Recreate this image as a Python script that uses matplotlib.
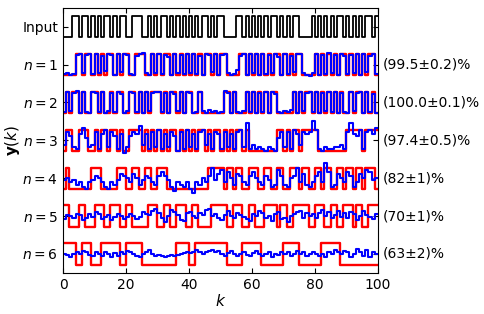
import numpy as np
import matplotlib
matplotlib.use("Agg")
import matplotlib.pyplot as plt

# input bit sequence and target sequences
inp = "0001101101010110101100111001010110101010101011010110000110101010101101010110000101010101101010101101"
targets = [
    "0000110110101011010110011100101011010101010101101011000011010101010110101011000010101010110101010110",
    "0101101001101001011001101010111010110101100100000001101000101010101100000101011010101010100101101010",
    "0110011100101101101001111010101010110101010110101101010110100000000011010110111110000000001111101111",
    "0100000001110000011100110011001110000000000000111110110110011100110011001110110011011001101101101110",
    "1100011000111001110011000001110011001110011000011111001110011000111101100111110011100110011101100111",
    "1111001110001111110011111000000000001111001111111111000001111110000000111110000000111111000000000000",
]

blue1 = [0.05, 0.1, 0.0, 0.05, 0.95, 1.0, 0.1, 0.95, 1.0, 0.05,
         1.0, 0.1, 0.9, 0.2, 1.0, 0.95, 0.0, 1.0, 0.15, 1.0,
         0.95, 0.05, 0.0, 0.9, 1.0, 1.05, 0.1, 0.0, 1.0, 0.1,
         1.0, 0.05, 0.95, 0.85, 0.0, 1.0, 0.1, 0.95, 0.05, 1.0,
         0.1, 1.0, 0.05, 0.9, 0.0, 1.0, 0.95, 0.15, 1.0, 0.0,
         0.95, 1.0, 0.1, 0.0, 0.05, 0.25, 0.9, 1.0, 0.0, 1.0,
         0.1, 1.0, 0.0, 1.0, 0.05, 0.95, 0.1, 1.0, 0.85, 0.0,
         1.0, 0.05, 0.9, 0.15, 1.0, 1.0, 0.1, 0.0, -0.05, 0.1,
         1.0, 0.0, 0.95, 0.05, 1.05, 0.1, 0.95, 0.0, 1.0, 0.9,
         0.05, 0.95, 0.1, 1.0, 0.0, 1.0, 0.15, 0.9, 1.0, 0.05]
blue2 = [0.05, 1.0, 0.1, 0.95, 1.05, 0.0, 1.0, 0.05, 0.0, 1.0,
         0.95, 0.05, 1.0, 0.0, 0.1, 0.95, 0.05, 1.0, 0.9, 0.0,
         0.1, 1.0, 0.95, 0.05, 1.0, 0.0, 1.0, 0.1, 0.95, 1.0,
         1.0, 0.05, 0.95, 0.0, 1.0, 0.9, 0.1, 1.0, 0.0, 1.0,
         0.95, 0.0, 0.05, 1.0, 0.1, 0.0, 0.15, 0.05, 0.1, 0.0,
         0.05, 1.05, 0.95, 0.0, 1.0, 0.05, 0.0, 0.1, 1.0, 0.05,
         1.0, 0.0, 0.95, 0.05, 1.0, 0.0, 1.0, 0.9, 0.05, 0.0,
         0.1, 0.05, 0.15, 1.0, 0.0, 1.0, 0.1, 0.95, 1.0, 0.05,
         1.0, 0.0, 0.95, 0.1, 1.0, 0.05, 1.0, 0.0, 0.95, 0.05,
         0.0, 1.0, 0.1, 0.95, 1.0, 0.0, 1.0, 0.05, 0.9, 0.0]
blue3 = [0.3, 0.9, 0.7, 0.2, 0.1, 0.8, 1.1, 0.6, 0.2, 0.3,
         0.9, 0.1, 0.8, 1.0, 0.2, 0.9, 0.7, 0.1, 0.8, -0.1,
         0.2, 0.7, 0.9, 0.8, 1.2, 0.3, 0.8, 0.1, 0.9, 0.2,
         1.0, 0.1, 0.8, 0.2, 0.9, 0.7, 0.0, 0.9, 0.1, 1.0,
         0.2, 0.8, 0.1, 0.9, 1.0, 0.3, 0.8, 0.1, 0.9, 0.8,
         0.1, 0.9, 0.2, 0.8, 0.1, 0.9, 1.0, 0.2, 1.3, 0.1,
         0.3, 0.1, 0.2, 0.1, 0.0, 0.2, 0.1, 0.0, 0.6, 0.9,
         0.2, 0.9, 0.1, 1.0, 0.8, 0.3, 0.9, 0.8, 0.9, 1.4,
         1.0, 0.1, 0.0, 0.2, 0.1, 0.1, 0.2, 0.2, 0.3, 0.1,
         0.9, 1.3, 0.8, 0.7, 1.0, 0.1, 0.9, 1.0, 0.8, 1.1]
blue4 = [0.4, 0.5, 0.3, 0.4, 0.2, 0.3, 0.1, 0.0, 0.3, 0.4,
         0.6, 0.5, 0.3, 0.1, 0.0, 0.3, 0.2, 0.4, 0.7, 0.6,
         0.5, 0.3, 0.7, 0.5, 0.2, 0.4, 0.6, 0.5, 0.3, 0.2,
         0.6, 0.8, 0.6, 0.4, 0.1, -0.1, 0.3, 0.2, 0.1, 0.3,
         0.0, -0.2, 0.3, 0.2, 0.5, 0.3, 0.6, 1.0, 0.4, 0.7,
         0.9, 0.3, 0.8, 0.5, 0.2, 0.7, 0.6, 0.3, 0.2, 0.6,
         0.8, 0.5, 0.3, 0.2, 0.6, 0.4, 0.1, 0.2, 0.9, 0.6,
         0.2, 0.1, 0.5, 0.6, 1.0, 0.3, 0.7, 0.2, 0.1, 0.3,
         0.6, 0.8, 0.3, 1.2, 0.8, 0.1, 0.2, 0.7, 0.5, 0.3,
         0.8, 0.6, 0.1, 0.3, 0.7, 0.5, 0.9, 0.8, 0.4, 0.5]
blue5 = [0.35, 0.55, 0.5, 0.4, 0.6, 0.55, 0.3, 0.4, 0.6, 0.45,
         0.7, 0.6, 0.35, 0.45, 0.55, 0.3, 0.45, 0.6, 0.5, 0.35,
         0.45, 0.6, 0.5, 0.35, 0.45, 0.7, 0.6, 0.55, 0.75, 0.85,
         0.65, 0.4, 0.2, 0.5, 0.8, 0.7, 0.55, 0.3, 0.25, 0.65,
         0.7, 0.5, 0.4, 0.65, 0.55, 0.8, 0.85, 0.5, 0.6, 0.4,
         0.3, 0.55, 0.75, 0.5, 0.4, 0.65, 0.55, 0.45, 0.35, 0.25,
         0.6, 0.5, 0.75, 0.65, 0.4, 0.5, 0.25, 0.6, 0.7, 0.35,
         0.4, 0.2, 0.5, 0.6, 0.7, 0.75, 0.4, 0.65, 0.5, 0.6,
         0.4, 0.65, 0.8, 0.5, 0.7, 0.4, 0.55, 0.75, 0.45, 0.65,
         0.4, 0.7, 0.6, 0.3, 0.5, 0.75, 0.55, 0.45, 0.35, 0.6]
blue6 = [0.5, 0.45, 0.35, 0.5, 0.6, 0.5, 0.65, 0.6, 0.45, 0.4,
         0.6, 0.5, 0.4, 0.6, 0.5, 0.35, 0.55, 0.4, 0.6, 0.5,
         0.65, 0.6, 0.5, 0.4, 0.35, 0.5, 0.6, 0.7, 0.5, 0.4,
         0.45, 0.4, 0.35, 0.4, 0.45, 0.4, 0.45, 0.5, 0.55, 0.6,
         0.55, 0.6, 0.7, 0.6, 0.5, 0.6, 0.65, 0.7, 0.6, 0.65,
         0.5, 0.4, 0.55, 0.65, 0.5, 0.4, 0.5, 0.6, 0.45, 0.4,
         0.55, 0.65, 0.5, 0.4, 0.5, 0.6, 0.35, 0.5, 0.45, 0.6,
         0.5, 0.6, 0.4, 0.5, 0.65, 0.5, 0.6, 0.4, 0.5, 0.6,
         0.5, 0.4, 0.5, 0.35, 0.6, 0.5, 0.7, 0.6, 0.5, 0.65,
         0.6, 0.35, 0.5, 0.75, 0.6, 0.4, 0.7, 0.35, 0.6, 0.5]
preds = [blue1, blue2, blue3, blue4, blue5, blue6]

row_labels = ["Input"] + [r"$n=%d$" % n for n in range(1, 7)]
accuracy = ["(99.5±0.2)%", "(100.0±0.1)%", "(97.4±0.5)%",
            "(82±1)%", "(70±1)%", "(63±2)%"]

amp = 0.56
k = np.arange(101)


def bits(s):
    return np.array([int(c) for c in s], dtype=float)


def draw(ax, vals, row, **kw):
    v = np.asarray(vals, dtype=float)
    v = np.append(v, v[-1])
    ax.step(k, 6 - row + amp * (v - 0.5), where="post", **kw)


fig = plt.figure(figsize=(4.85, 3.14), dpi=100)
ax = fig.add_axes([0.130, 0.131, 0.649, 0.844])

draw(ax, bits(inp), 0, color="k", lw=1.3)
for i in range(6):
    draw(ax, bits(targets[i]), i + 1, color="r", lw=1.7)
    draw(ax, preds[i], i + 1, color="b", lw=1.5)
    ax.text(1.015, (6 - (i + 1) + 0.5) / 7.0, accuracy[i], transform=ax.transAxes,
            ha="left", va="center", fontsize=10)

ax.set_xlim(0, 100)
ax.set_ylim(-0.5, 6.5)
ax.set_xticks([0, 20, 40, 60, 80, 100])
ax.set_yticks([6, 5, 4, 3, 2, 1, 0])
ax.set_yticklabels(row_labels)
ax.tick_params(direction="in", top=True, right=True, labelsize=10)
ax.set_xlabel(r"$k$", fontsize=11, labelpad=1)
ax.set_ylabel(r"$\mathbf{y}(k)$", fontsize=11, labelpad=0)

plt.savefig("out.png", dpi=100)
